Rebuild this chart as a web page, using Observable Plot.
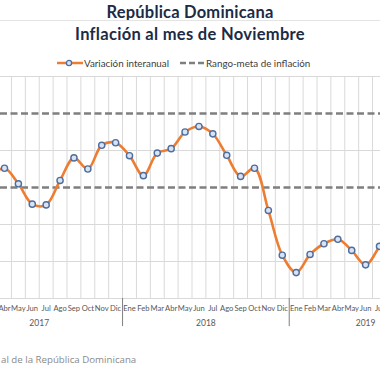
<!DOCTYPE html>
<html>
<head>
<meta charset="utf-8">
<script src="https://cdn.jsdelivr.net/npm/d3@7"></script>
<script src="https://cdn.jsdelivr.net/npm/@observablehq/plot@0.6"></script>
<style>
  html, body { margin: 0; padding: 0; background: #fff; }
  #wrap { position: relative; width: 380px; height: 380px; overflow: hidden; font-family: Lato, "DejaVu Sans", sans-serif; }
  .t1 { position: absolute; left: 0; width: 380px; text-align: center; top: 2px; font-weight: bold; font-size: 16.5px; color: #1c2b45; line-height: 20px; letter-spacing: 0.2px; }
  .sep { position: absolute; left: 0; width: 380px; top: 20px; height: 1px; background: #e4e4e4; }
  .t2 { position: absolute; left: 0; width: 380px; text-align: center; top: 24px; font-weight: bold; font-size: 16.5px; color: #1c2b45; line-height: 20px; letter-spacing: 0.3px; }
  .legend { position: absolute; left: 0; top: 56px; width: 380px; height: 14px; font-size: 9.8px; color: #404040; }
  .legend span { position: absolute; top: 0; line-height: 14px; }
  .legend svg { position: absolute; top: 0; }
  #chart { position: absolute; left: 0; top: 70px; }
  .cap { position: absolute; left: 1px; top: 353px; font-family: "Open Sans", sans-serif; font-size: 9.7px; color: #8a8a8a; }
</style>
</head>
<body>
<div id="wrap">
  <div class="t1">República Dominicana</div>
  <div class="sep"></div>
  <div class="t2">Inflación al mes de Noviembre</div>
  <div class="legend">
    <svg width="30" height="14" style="left:56px"><line x1="1" y1="7" x2="27" y2="7" stroke="#ED7D31" stroke-width="2.5"/><circle cx="13" cy="7" r="2.6" fill="#dae3f3" stroke="#4e6e9e" stroke-width="1.3"/></svg>
    <span style="left:84px">Variación interanual</span>
    <svg width="28" height="14" style="left:179px"><line x1="1" y1="7" x2="26" y2="7" stroke="#7f7f7f" stroke-width="2.5" stroke-dasharray="6,3"/></svg>
    <span style="left:206px">Rango-meta de inflación</span>
  </div>
  <div id="chart"></div>
  <div class="cap">al de la República Dominicana</div>
</div>
<script>
// Month categories Ene 2017 .. Nov 2019 (index 0..34)
const monthNames = ["Ene","Feb","Mar","Abr","May","Jun","Jul","Ago","Sep","Oct","Nov","Dic"];
const years = [2017, 2018, 2019];
const months = [];
years.forEach(y => monthNames.forEach((m, k) => { if (!(y === 2019 && k === 11)) months.push({m, y}); }));

// Variación interanual (%) from Mar 2017 (index 2) to Ago 2019 (index 31)
const startIndex = 2;
const inflation = [
  3.30, 3.52, 3.10, 2.55, 2.53, 3.19, 3.80, 3.50, 4.14, 4.21,
  3.86, 3.32, 3.93, 4.05, 4.50, 4.65, 4.45, 3.87, 3.30, 3.52, 2.38, 1.17,
  0.70, 1.19, 1.48, 1.60, 1.30, 0.91, 1.41, 2.00
];
// Rango-meta de inflación (4% ± 1%)
const targetRange = [3, 5];
const yGrid = [0, 1, 2, 4, 6];
const yearDividers = [11.5, 23.5];
// visible window of months (Abr 2017 .. Jul 2019)
const firstVisible = 3, lastVisible = 30;

const series = inflation.map((v, k) => ({i: startIndex + k, v}));
const idx = months.map((d, i) => i);
const visibleIdx = idx.filter(i => i >= firstVisible && i <= lastVisible);
const yearLabels = years.map(y => {
  const ii = idx.filter(i => months[i].y === y);
  return {y, i: (ii[0] + ii[ii.length - 1]) / 2};
});

const chart = Plot.plot({
  width: 380,
  height: 270,
  marginLeft: 0,
  marginRight: 0,
  marginTop: 6,
  marginBottom: 42,
  x: {type: "linear", domain: [2.712, 30.072], axis: null},
  y: {domain: [0, 6], axis: null},
  style: {fontFamily: "Lato, sans-serif", overflow: "hidden"},
  marks: [
    Plot.ruleX(idx, {x: d => d + 0.5, y1: 0, y2: 6, stroke: "#d9d9d9", strokeWidth: 1}),
    Plot.ruleY(yGrid, {stroke: "#d9d9d9", strokeWidth: 1}),
    Plot.ruleY(targetRange, {stroke: "#7f7f7f", strokeWidth: 2.6, strokeDasharray: "7,3.5"}),
    Plot.ruleX(yearDividers, {y1: 0, y2: -0.76, stroke: "#7f7f7f", strokeWidth: 1}),
    Plot.line(series, {x: "i", y: "v", stroke: "#ED7D31", strokeWidth: 2.6, curve: "catmull-rom", clip: true}),
    Plot.dot(series, {x: "i", y: "v", r: 3.1, fill: "#dae3f3", stroke: "#4e6e9e", strokeWidth: 1.4, clip: true}),
    Plot.text(visibleIdx, {x: d => d, y: 0, text: d => months[d].m, dy: 10, fontSize: 7.6, fill: "#595959", lineAnchor: "middle"}),
    Plot.text(yearLabels, {x: "i", y: 0, text: d => String(d.y), dy: 25, fontSize: 8.5, fill: "#595959", lineAnchor: "middle"})
  ]
});
document.getElementById("chart").appendChild(chart);
</script>
</body>
</html>
